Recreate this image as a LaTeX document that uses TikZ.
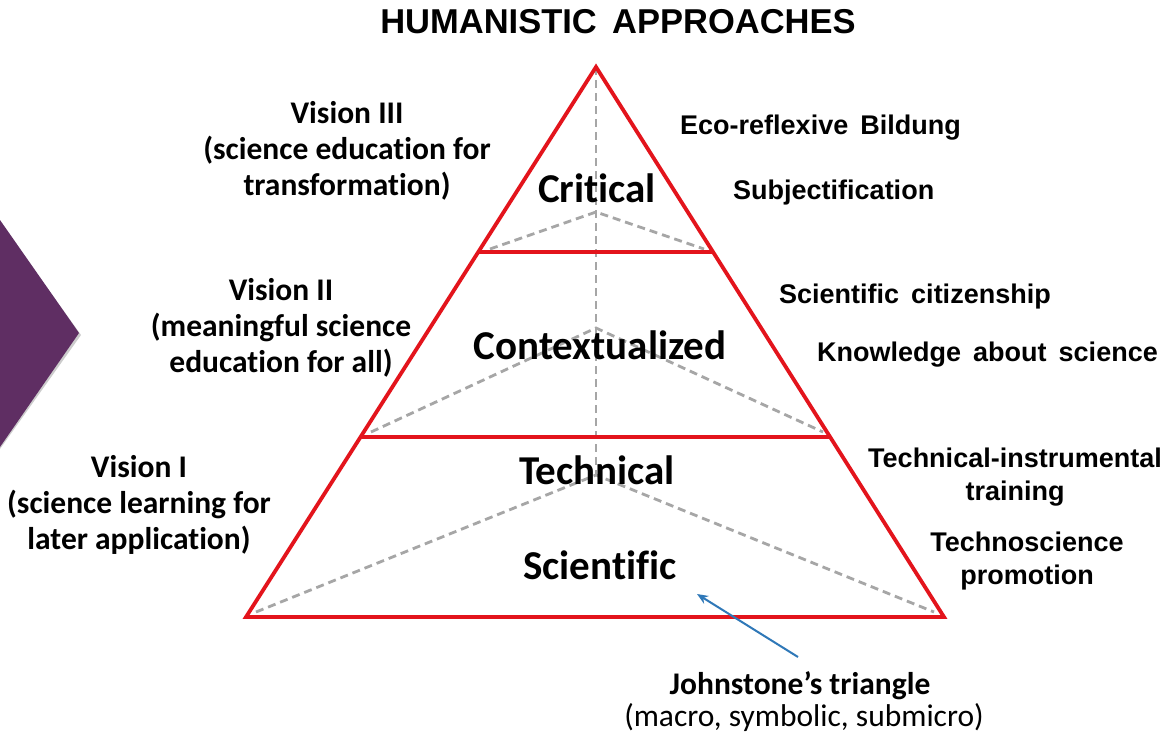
\documentclass[tikz,border=0pt]{standalone}
\usepackage{fontspec}
\setmainfont{Carlito}[Ligatures=NoCommon]
\newfontfamily\titlefont{Liberation Sans}
\newfontfamily\rfont[WordSpace=1.6]{Liberation Sans}
\usetikzlibrary{arrows.meta}
\definecolor{tred}{HTML}{E3141C}
\definecolor{dgray}{HTML}{A6A6A6}
\definecolor{chev}{HTML}{5F2E63}
\definecolor{arrblue}{HTML}{2F78B8}
\tikzset{
  redline/.style={draw=tred, line width=3.8pt, line join=miter},
  dashline/.style={draw=dgray, line width=2.8pt, dash pattern=on 8pt off 5pt},
  lbl/.style={font=\fontsize{31.5}{36}\selectfont\bfseries, align=center, inner sep=0pt},
  rlbl/.style={font=\rfont\fontsize{27}{33}\selectfont\bfseries, align=center, inner sep=0pt},
  lvl/.style={font=\fontsize{41}{44}\selectfont\bfseries, inner sep=0pt},
}
\begin{document}
\begin{tikzpicture}[x=1pt,y=-1pt]
\useasboundingbox[fill=white] (0,0) rectangle (1168,737);
% chevron
\fill[black!20] (0,222) -- (81,335) -- (0,449) -- cycle;
\fill[chev] (0,220) -- (79,333) -- (0,447) -- cycle;
% coordinates
\coordinate (apex) at (596,67);
\coordinate (bl) at (246,617);
\coordinate (br) at (944,617);
\coordinate (l1l) at (479,252);
\coordinate (l1r) at (713,252);
\coordinate (l2l) at (361,437);
\coordinate (l2r) at (831,437);
\coordinate (c1) at (596,212);
\coordinate (c2) at (596,328);
\coordinate (c3) at (596,475);
% dashed lines
\draw[dashline] (apex) -- (c3);
\draw[dashline] (490,249) -- (c1) -- (704,249);
\draw[dashline] (371,432) -- (c2) -- (823,432);
\draw[dashline] (256,612) -- (c3) -- (934,612);
% red triangle
\draw[redline] (apex) -- (bl) -- (br) -- cycle;
\draw[redline] (l1l) -- (l1r);
\draw[redline] (l2l) -- (l2r);
% title
\node[font=\titlefont\fontsize{34.5}{36}\selectfont\bfseries, inner sep=0pt] (title) at (618,22) {HUMANISTIC APPROACHES};
% level labels
\node[lvl] (crit) at (597,188) {Critical};
\node[lvl] (ctx) at (600,345) {Contextualized};
\node[lvl] (tech) at (597,470) {Technical};
\node[lvl] (sci) at (600,565) {Scientific};
% left labels
\node[lbl] (v3) at (347,151) {Vision III\\(science education for\\transformation)};
\node[lbl] (v2) at (281,328) {Vision II\\(meaningful science\\education for all)};
\node[lbl] (v1) at (139,505) {Vision I\\(science learning for\\later application)};
% right labels
\node[rlbl, anchor=west] (eco) at (680,128) {Eco-reflexive Bildung};
\node[rlbl, anchor=west] (subj) at (733,193) {Subjectification};
\node[rlbl, anchor=west] (cit) at (779,297) {Scientific citizenship};
\node[rlbl, anchor=west] (know) at (817,355) {Knowledge about science};
\node[rlbl] (tit) at (1015,477) {Technical-instrumental\\training};
\node[rlbl] (tsp) at (1027,561) {Technoscience\\promotion};
% Johnstone
\node[lbl] (john) at (800,686) {Johnstone’s triangle};
\node[lbl, font=\fontsize{31.5}{34}\selectfont] (johnsub) at (804,718) {(macro, symbolic, submicro)};
\coordinate (arrs) at (798,657);
\coordinate (arre) at (697,594);
\draw[arrblue, line width=2pt, -{Stealth[length=11pt,width=9pt]}] (arrs) -- (arre);
\end{tikzpicture}
\end{document}
